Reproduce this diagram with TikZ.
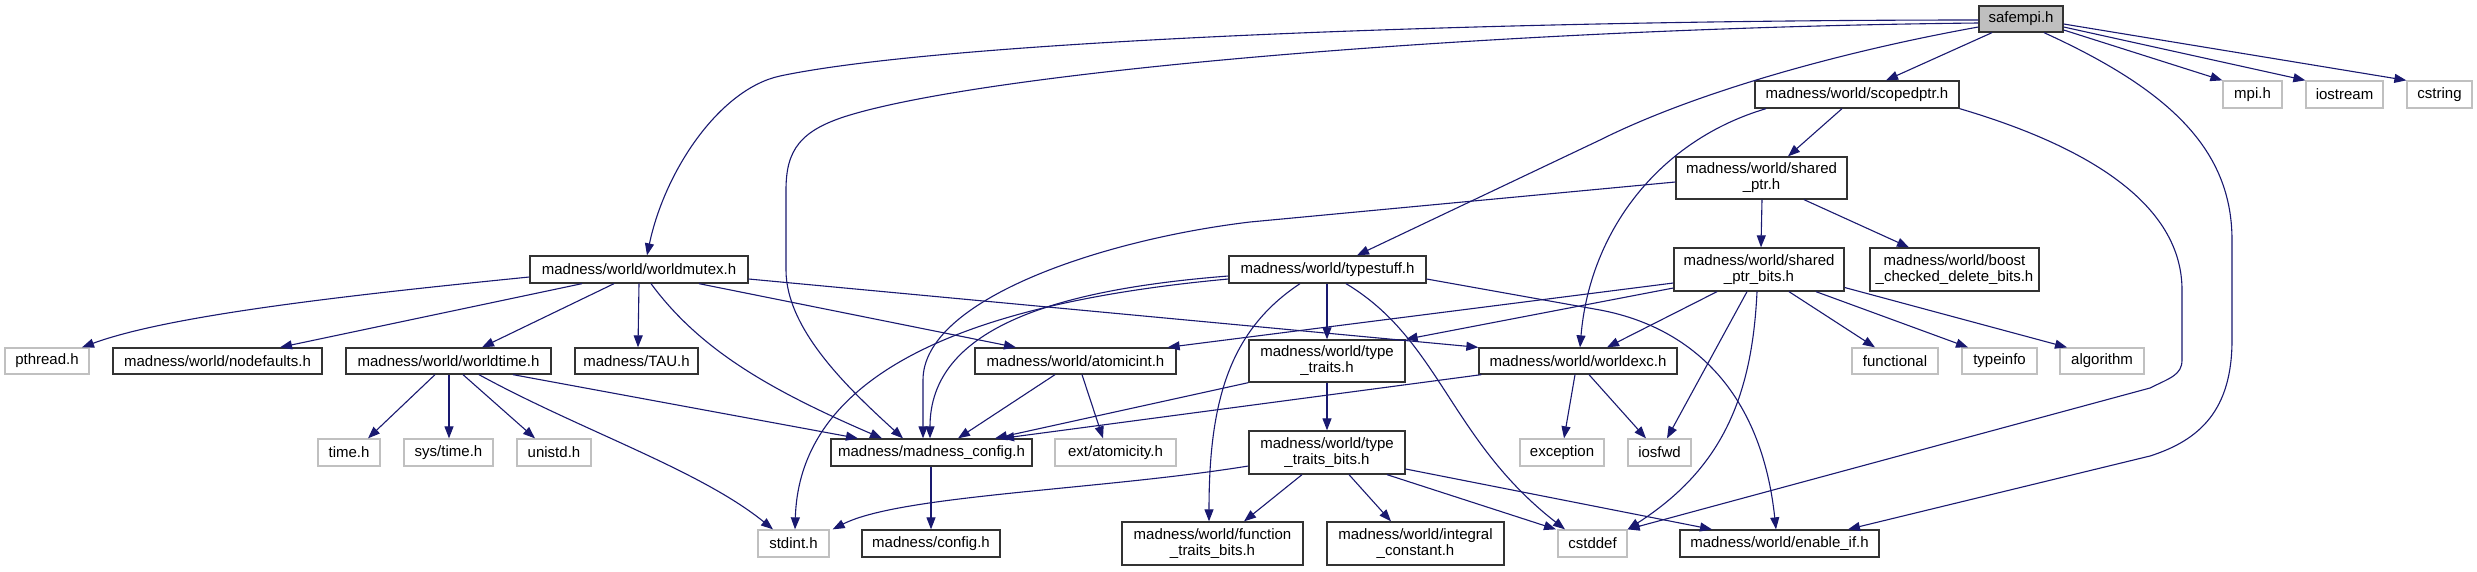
\documentclass[tikz,border=0pt]{standalone}
\usepackage{fontspec}
\setmainfont{Liberation Sans}
\usetikzlibrary{arrows.meta,calc}
\definecolor{edgec}{HTML}{191970}
\definecolor{sysg}{HTML}{C0C0C0}
\definecolor{mainfill}{HTML}{BFBFBF}
\begin{document}
\begin{tikzpicture}[x=1pt,y=-1pt,
  box/.style={draw=black!80, line width=1.3pt, fill=white, inner sep=0pt, align=center,
    font=\fontsize{15}{16}\selectfont, minimum height=27pt},
  box2/.style={box, minimum height=43pt},
  sys/.style={box, draw=sysg},
  mainbox/.style={box, fill=mainfill, minimum height=26pt},
  e/.style={draw=edgec, line width=1.1pt, -{Triangle[length=12pt,width=9pt]}}]
\useasboundingbox[fill=white] (0,0) rectangle (2477,571);

% nodes
\node[mainbox, minimum width=84pt] (safe) at (2021,19) {safempi.h};
\node[box, minimum width=204pt] (sc) at (1857,94.5) {madness/world/scopedptr.h};
\node[sys, minimum width=59pt] (mpi) at (2252.5,94.5) {mpi.h};
\node[sys, minimum width=77pt] (ios) at (2344.5,94.5) {iostream};
\node[sys, minimum width=65pt] (cstr) at (2439.5,94.5) {cstring};
\node[box, minimum width=171pt, minimum height=42pt] (sp) at (1761.5,178) {madness/world/shared\\\_ptr.h};
\node[box2, minimum width=170pt] (spb) at (1759,269.5) {madness/world/shared\\\_ptr\_bits.h};
\node[box2, minimum width=169pt] (boost) at (1954.5,269.5) {madness/world/boost\\\_checked\_delete\_bits.h};
\node[box, minimum width=218pt] (wm) at (639,269.5) {madness/world/worldmutex.h};
\node[box, minimum width=197pt] (ts) at (1327.5,269.5) {madness/world/typestuff.h};
\node[sys, minimum width=84pt, minimum height=26pt] (pth) at (47,361) {pthread.h};
\node[box, minimum width=209pt, minimum height=26pt] (nd) at (217.5,361) {madness/world/nodefaults.h};
\node[box, minimum width=205pt, minimum height=26pt] (wt) at (448.5,361) {madness/world/worldtime.h};
\node[box, minimum width=123pt, minimum height=26pt] (tau) at (636.5,361) {madness/TAU.h};
\node[box, minimum width=201pt, minimum height=26pt] (ai) at (1075.5,361) {madness/world/atomicint.h};
\node[box, minimum width=156pt, minimum height=42pt] (tt) at (1327,361) {madness/world/type\\\_traits.h};
\node[box, minimum width=198pt, minimum height=26pt] (we) at (1578,361) {madness/world/worldexc.h};
\node[sys, minimum width=86pt, minimum height=26pt] (fun) at (1895,361) {functional};
\node[sys, minimum width=75pt, minimum height=26pt] (ti) at (1999.5,361) {typeinfo};
\node[sys, minimum width=84pt, minimum height=26pt] (alg) at (2102,361) {algorithm};
\node[sys, minimum width=62pt] (time) at (349,452.5) {time.h};
\node[sys, minimum width=89pt] (syst) at (448.5,452.5) {sys/time.h};
\node[sys, minimum width=74pt] (uni) at (554,452.5) {unistd.h};
\node[box, minimum width=201pt] (mc) at (931.5,452.5) {madness/madness\_config.h};
\node[sys, minimum width=121pt] (ext) at (1115.5,452.5) {ext/atomicity.h};
\node[box2, minimum width=156pt] (ttb) at (1327,452.5) {madness/world/type\\\_traits\_bits.h};
\node[sys, minimum width=84pt] (exc) at (1562,452.5) {exception};
\node[sys, minimum width=63pt] (iosf) at (1659.5,452.5) {iosfwd};
\node[sys, minimum width=71pt] (std) at (793.5,543.5) {stdint.h};
\node[box, minimum width=138pt] (cfg) at (931,543.5) {madness/config.h};
\node[box2, minimum width=181pt] (ftb) at (1212.5,543.5) {madness/world/function\\\_traits\_bits.h};
\node[box2, minimum width=177pt] (ic) at (1415.5,543.5) {madness/world/integral\\\_constant.h};
\node[sys, minimum width=69pt] (cdf) at (1592.5,543.5) {cstddef};
\node[box, minimum width=199pt] (ei) at (1779.5,543.5) {madness/world/enable\_if.h};

% edges from safempi.h
\draw[e] ($(safe.west)+(0,1)$) .. controls (1500,20) and (950,40) .. (780,76)
  .. controls (720,89) and (665,170) .. ($(wm.north)+(8,0)$);
\draw[e] ($(safe.west)+(0,4)$) .. controls (1500,28) and (1000,70) .. (850,115)
  .. controls (800,130) and (786,150) .. (786,190) -- (786,270)
  .. controls (786,330) and (850,390) .. ($(mc.north)+(-28.5,0)$);
\draw[e] ($(safe.west)+(0,8)$) .. controls (1850,50) and (1700,90) .. (1600,140) -- ($(ts.north)+(29.5,0)$);
\draw[e] ($(safe.south)+(-29,0)$) -- ($(sc.north)+(29,0)$);
\draw[e] ($(safe.east)+(0,11)$) -- (mpi.north west);
\draw[e] ($(safe.east)+(0,8)$) -- (ios.north west);
\draw[e] ($(safe.east)+(0,5)$) -- (cstr.north west);
\draw[e] ($(safe.south)+(23,0)$) .. controls (2170,90) and (2232,150) .. (2232,240) -- (2232,340)
  .. controls (2232,410) and (2200,440) .. (2150,456) -- ($(ei.north)+(68.5,0)$);

% scopedptr.h
\draw[e] ($(sc.south)+(-15,0)$) -- ($(sp.north)+(26.5,0)$);
\draw[e] ($(sc.south)+(-91,0)$) .. controls (1660,140) and (1590,230) .. ($(we.north)+(2,0)$);
\draw[e] (sc.south east) .. controls (2100,150) and (2182,210) .. (2182,290) -- (2182,360)
  .. controls (2182,375) and (2170,378) .. (2150,388) -- (cdf.north east);

% shared_ptr.h
\draw[e] ($(sp.west)+(0,4)$) -- (1250,222) .. controls (1100,240) and (923,300) .. (923,380) -- ($(mc.north)+(-8.5,0)$);
\draw[e] ($(sp.south)+(0.5,0)$) -- ($(spb.north)+(2,0)$);
\draw[e] ($(sp.south)+(42.5,0)$) -- ($(boost.north)+(-45.5,0)$);

% shared_ptr_bits.h
\draw[e] ($(spb.west)+(0,13.5)$) -- ($(ai.north east)+(-9,0)$);
\draw[e] ($(spb.west)+(0,18.5)$) -- (tt.north east);
\draw[e] ($(spb.south)+(-42,0)$) -- ($(we.north)+(29,0)$);
\draw[e] ($(spb.south)+(-12,0)$) -- ($(iosf.north)+(7.5,0)$);
\draw[e] ($(spb.south)+(-2,0)$) .. controls (1752,400) and (1720,470) .. (cdf.north east);
\draw[e] ($(spb.south)+(30,0)$) -- ($(fun.north)+(-20,0)$);
\draw[e] ($(spb.south)+(57,0)$) -- ($(ti.north)+(-31.5,0)$);
\draw[e] ($(spb.east)+(0,18)$) -- ($(alg.north)+(-35,0)$);

% worldmutex.h
\draw[e] ($(wm.west)+(0,7.5)$) .. controls (350,295) and (170,315) .. ($(pth.north)+(35,0)$);
\draw[e] ($(wm.south)+(-57,0)$) -- ($(nd.north)+(62.5,0)$);
\draw[e] ($(wm.south)+(-25,0)$) -- ($(wt.north)+(33.5,0)$);
\draw[e] (wm.south) -- ($(tau.north)+(1.5,0)$);
\draw[e] ($(wm.south)+(12,0)$) .. controls (700,350) and (770,390) .. ($(mc.north)+(-49.5,0)$);
\draw[e] ($(wm.south)+(60,0)$) -- ($(ai.north)+(-59.5,0)$);
\draw[e] ($(wm.east)+(0,9.5)$) -- (we.north west);

% worldtime.h
\draw[e] ($(wt.south)+(-13.5,0)$) -- ($(time.north)+(19,0)$);
\draw[e] ($(wt.south)+(0.5,0)$) -- ($(syst.north)+(0.5,0)$);
\draw[e] ($(wt.south)+(14.5,0)$) -- ($(uni.north)+(-19,0)$);
\draw[e] ($(wt.south)+(30.5,0)$) .. controls (580,430) and (700,470) .. ($(std.north)+(-20.5,0)$);
\draw[e] ($(wt.south)+(64.5,0)$) -- ($(mc.north)+(-73.5,0)$);

% atomicint.h
\draw[e] ($(ai.south)+(-20.5,0)$) -- ($(mc.north)+(26.5,0)$);
\draw[e] ($(ai.south)+(6.5,0)$) -- ($(ext.north)+(-12.5,0)$);

% typestuff.h
\draw[e] ($(ts.west)+(0,6.5)$) .. controls (1050,290) and (930,330) .. ($(mc.north)+(-1.5,0)$);
\draw[e] ($(ts.west)+(0,9.5)$) .. controls (1000,300) and (800,360) .. ($(std.north)+(1.5,0)$);
\draw[e] ($(ts.south)+(-0.5,0)$) -- (tt.north);
\draw[e] ($(ts.south)+(-27.5,0)$) .. controls (1230,330) and (1209,400) .. ($(ftb.north)+(-3.5,0)$);
\draw[e] ($(ts.south)+(18.5,0)$) .. controls (1440,340) and (1450,440) .. ($(cdf.north)+(-27.5,0)$);
\draw[e] ($(ts.east)+(0,9.5)$) -- (1600,310) .. controls (1680,325) and (1760,380) .. ($(ei.north)+(-3.5,0)$);

% type_traits.h
\draw[e] (tt.south west) -- ($(mc.north)+(63.5,0)$);
\draw[e] (tt.south) -- (ttb.north);

% worldexc.h
\draw[e] ($(we.south west)+(3,0)$) -- ($(mc.north)+(70.5,0)$);
\draw[e] ($(we.south)+(-3,0)$) -- ($(exc.north)+(2,0)$);
\draw[e] ($(we.south)+(11,0)$) -- ($(iosf.north)+(-13.5,0)$);

% madness_config.h
\draw[e] ($(mc.south)+(-0.5,0)$) -- (cfg.north);

% type_traits_bits.h
\draw[e] ($(ttb.west)+(0,13.5)$) .. controls (1100,490) and (900,495) .. ($(std.north east)+(3,0)$);
\draw[e] ($(ttb.south)+(-25,0)$) -- ($(ftb.north)+(31.5,0)$);
\draw[e] ($(ttb.south)+(22,0)$) -- ($(ic.north)+(-24.5,0)$);
\draw[e] ($(ttb.south)+(60,0)$) -- ($(cdf.north)+(-36.5,0)$);
\draw[e] ($(ttb.east)+(0,16.5)$) -- ($(ei.north)+(-67.5,0)$);
\end{tikzpicture}
\end{document}
